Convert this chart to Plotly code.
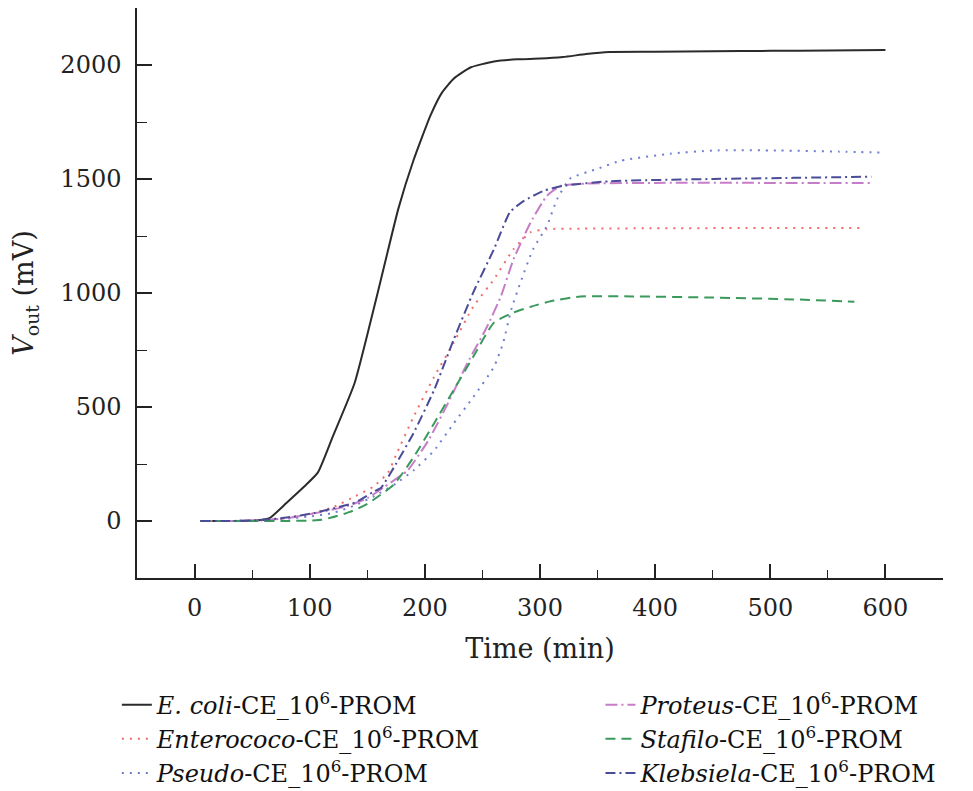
import plotly.graph_objects as go

ecoli_t = [5, 20, 40, 55, 65, 80, 95, 107, 120, 139, 159, 177, 190, 205, 215, 225, 240, 260, 280, 300, 320, 340, 360, 400, 450, 500, 550, 600]
ecoli_v = [0, 0, 0, 3, 12, 80, 150, 212, 370, 605, 1000, 1370, 1580, 1780, 1880, 1940, 1990, 2015, 2025, 2028, 2035, 2048, 2057, 2058, 2060, 2062, 2064, 2066]

entero_t = [5, 30, 60, 80, 100, 120, 140, 155, 168, 175, 190, 208, 225, 242, 260, 277, 292, 306, 330, 400, 500, 580]
entero_v = [0, 0, 3, 12, 30, 60, 110, 150, 212, 290, 455, 632, 781, 940, 1060, 1192, 1267, 1280, 1282, 1284, 1285, 1285]

pseudo_t = [5, 30, 60, 80, 100, 120, 140, 160, 175, 190, 208, 225, 242, 260, 268, 275, 283, 294, 306, 315, 326, 350, 370, 413, 450, 508, 560, 599]
pseudo_v = [0, 0, 3, 10, 20, 35, 70, 120, 165, 221, 309, 428, 543, 676, 781, 927, 1046, 1192, 1294, 1413, 1501, 1545, 1580, 1611, 1625, 1625, 1620, 1616]

proteus_t = [5, 30, 60, 80, 100, 120, 133, 150, 165, 179, 185, 203, 220, 237, 254, 266, 277, 292, 306, 318, 340, 400, 500, 588]
proteus_v = [0, 0, 4, 12, 30, 50, 66, 100, 150, 199, 221, 353, 516, 693, 852, 985, 1148, 1311, 1426, 1470, 1480, 1483, 1483, 1483]

stafilo_t = [5, 40, 80, 100, 110, 119, 135, 150, 173, 190, 208, 225, 242, 260, 277, 292, 310, 335, 380, 450, 520, 573]
stafilo_v = [0, 0, 0, 2, 5, 15, 40, 75, 160, 278, 428, 574, 720, 870, 914, 940, 965, 985, 985, 980, 972, 962]

klebs_t = [5, 30, 60, 80, 104, 120, 139, 156, 162, 173, 190, 208, 225, 242, 260, 274, 286, 303, 320, 360, 450, 520, 588]
klebs_v = [0, 0, 5, 15, 35, 55, 80, 130, 146, 234, 384, 574, 795, 1002, 1192, 1355, 1404, 1448, 1470, 1490, 1500, 1505, 1510]

series = [
    ("<i>E. coli</i>-CE_10<sup>6</sup>-PROM", ecoli_t, ecoli_v, "#2b2b2b", "solid", 2, "legend"),
    ("<i>Enterococo</i>-CE_10<sup>6</sup>-PROM", entero_t, entero_v, "#f26a6a", "2px,6px", 2, "legend"),
    ("<i>Pseudo</i>-CE_10<sup>6</sup>-PROM", pseudo_t, pseudo_v, "#6f7fd0", "2px,6px", 2, "legend"),
    ("<i>Proteus</i>-CE_10<sup>6</sup>-PROM", proteus_t, proteus_v, "#c77cc7", "12px,4px,2px,4px", 2, "legend2"),
    ("<i>Stafilo</i>-CE_10<sup>6</sup>-PROM", stafilo_t, stafilo_v, "#3a9a5c", "10px,6px", 2, "legend2"),
    ("<i>Klebsiela</i>-CE_10<sup>6</sup>-PROM", klebs_t, klebs_v, "#4a4c98", "10px,4px,2px,4px", 2, "legend2"),
]

fig = go.Figure()
for name, t, v, color, dash, w, lg in series:
    fig.add_trace(go.Scatter(
        x=t, y=v, mode="lines", name=name, legend=lg,
        line=dict(color=color, dash=dash, width=w, shape="spline", smoothing=0.5),
    ))

font_family = "DejaVu Serif, serif"
legend_common = dict(yref="container", xref="paper", y=0.1385, xanchor="left", yanchor="top",
                     orientation="v", font=dict(family=font_family, size=24, color="#111"),
                     tracegroupgap=0, bgcolor="rgba(0,0,0,0)")
fig.update_layout(
    width=957, height=783,
    margin=dict(l=129, r=22, t=0, b=213, autoexpand=False),
    plot_bgcolor="white", paper_bgcolor="white",
    font=dict(family=font_family, size=24, color="#222"),
    showlegend=True,
    legend=dict(x=-0.025, **legend_common),
    legend2=dict(x=0.575, **legend_common),
    xaxis=dict(range=[-50, 650], tickvals=[0, 100, 200, 300, 400, 500, 600],
               ticks="inside", ticklen=14, tickwidth=1.5, tickcolor="#222",
               minor=dict(ticks="inside", ticklen=8, tickwidth=1.2, dtick=50, tick0=0, tickcolor="#222"),
               showline=True, linecolor="#222", linewidth=1.5, showgrid=False, zeroline=False,
               ticklabelstandoff=7, tickfont=dict(size=24),
               title=dict(text="Time (min)", font=dict(size=27), standoff=19)),
    yaxis=dict(range=[-250, 2250], tickvals=[0, 500, 1000, 1500, 2000],
               ticks="inside", ticklen=15, tickwidth=1.5, tickcolor="#222",
               minor=dict(ticks="inside", ticklen=10, tickwidth=1.2, dtick=250, tick0=0, tickcolor="#222"),
               showline=True, linecolor="#222", linewidth=1.5, showgrid=False, zeroline=False,
               ticklabelstandoff=9, tickfont=dict(size=24),
               title=dict(text="<i>V</i><sub>out</sub> (mV)", font=dict(size=27), standoff=24)),
)

fig.write_html("out.html")
